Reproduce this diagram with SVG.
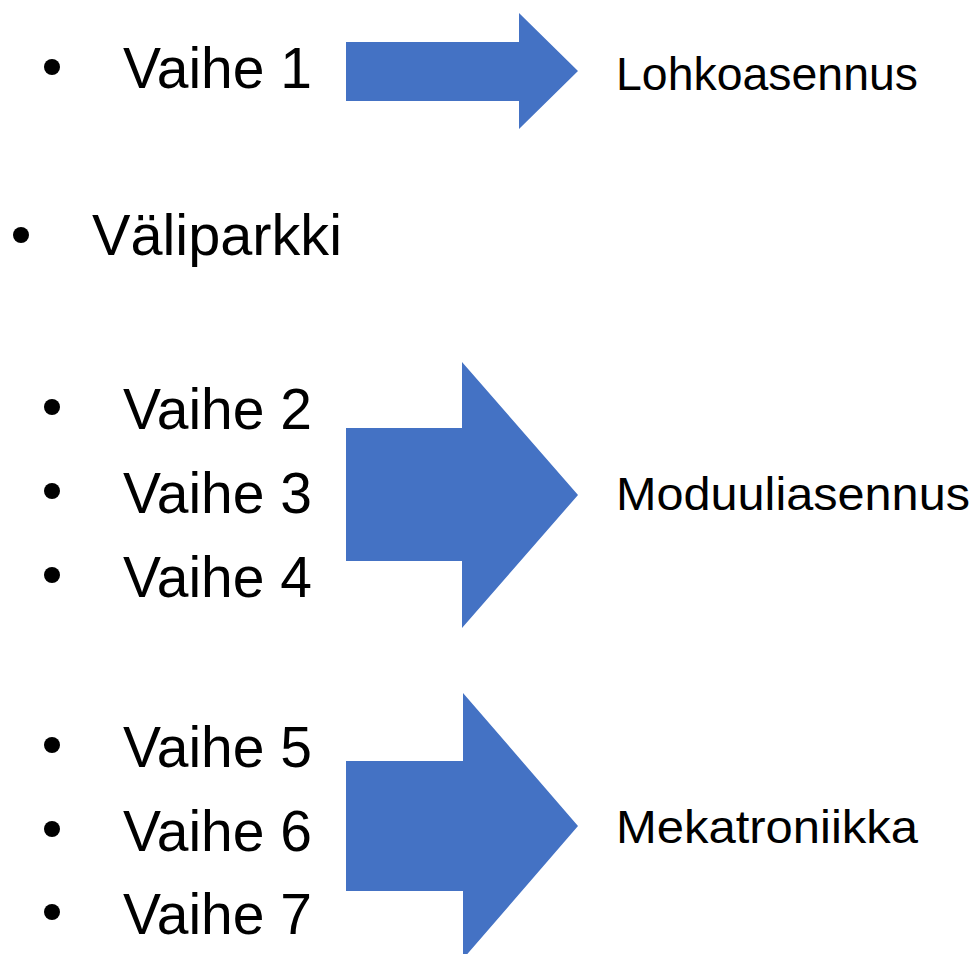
<svg xmlns="http://www.w3.org/2000/svg" width="978" height="954" viewBox="0 0 978 954">
<style>
.big{font-family:"Liberation Sans",Arial,sans-serif;font-size:58px;fill:#000}
.lbl{font-family:"Liberation Sans",Arial,sans-serif;font-size:47px;fill:#000}
.arrow{fill:#4472C4}
.dot{fill:#000}
</style>
<rect width="978" height="954" fill="#fff"/>
<g id="list1">
<circle class="dot" cx="52" cy="67" r="8"/>
<text class="big" x="123" y="88" textLength="189" lengthAdjust="spacingAndGlyphs">Vaihe 1</text>
</g>
<g id="valiparkki">
<circle class="dot" cx="21" cy="235" r="8"/>
<text class="big" x="92" y="255" textLength="250" lengthAdjust="spacingAndGlyphs">Väliparkki</text>
</g>
<g id="list2">
<circle class="dot" cx="52" cy="407" r="8"/>
<text class="big" x="123" y="429" textLength="189" lengthAdjust="spacingAndGlyphs">Vaihe 2</text>
<circle class="dot" cx="52" cy="491" r="8"/>
<text class="big" x="123" y="513" textLength="189" lengthAdjust="spacingAndGlyphs">Vaihe 3</text>
<circle class="dot" cx="52" cy="575" r="8"/>
<text class="big" x="123" y="597" textLength="189" lengthAdjust="spacingAndGlyphs">Vaihe 4</text>
</g>
<g id="list3">
<circle class="dot" cx="52" cy="745" r="8"/>
<text class="big" x="123" y="767" textLength="189" lengthAdjust="spacingAndGlyphs">Vaihe 5</text>
<circle class="dot" cx="52" cy="829" r="8"/>
<text class="big" x="123" y="851" textLength="189" lengthAdjust="spacingAndGlyphs">Vaihe 6</text>
<circle class="dot" cx="52" cy="912" r="8"/>
<text class="big" x="123" y="934" textLength="189" lengthAdjust="spacingAndGlyphs">Vaihe 7</text>
</g>
<g id="connectors">
<polygon class="arrow" points="346,42 519,42 519,13 578,71 519,129 519,101 346,101"/>
<polygon class="arrow" points="346,428 462,428 462,362 578,495 462,628 462,561 346,561"/>
<polygon class="arrow" points="346,761 463,761 463,693 578,826 463,959 463,891 346,891"/>
</g>
<g id="lohkoasennus">
<text class="lbl" x="616" y="90" textLength="302" lengthAdjust="spacingAndGlyphs">Lohkoasennus</text>
</g>
<g id="moduuliasennus">
<text class="lbl" x="616" y="510" textLength="354" lengthAdjust="spacingAndGlyphs">Moduuliasennus</text>
</g>
<g id="mekatroniikka">
<text class="lbl" x="616" y="843" textLength="302" lengthAdjust="spacingAndGlyphs">Mekatroniikka</text>
</g>
</svg>
